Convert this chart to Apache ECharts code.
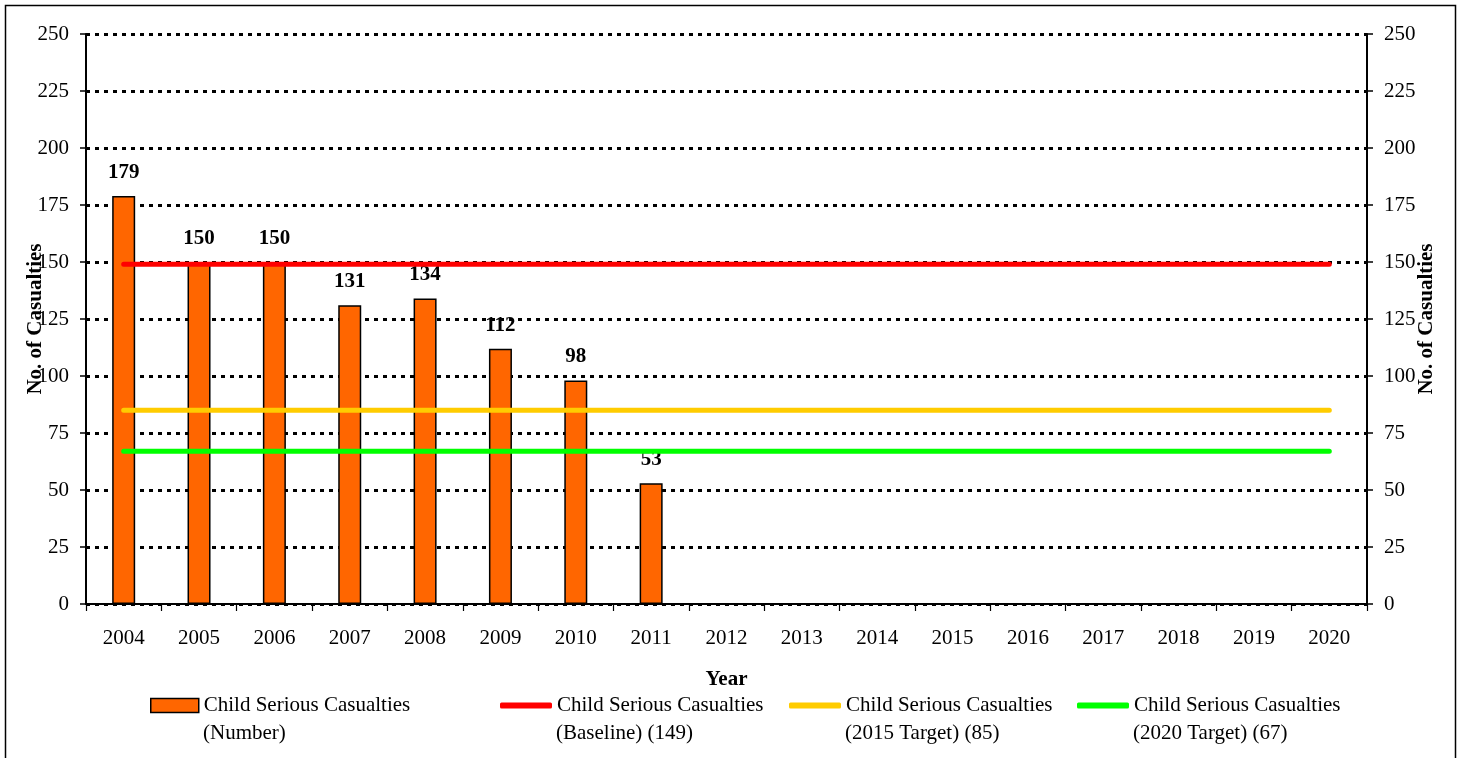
<!DOCTYPE html>
<html>
<head>
<meta charset="utf-8">
<script src="https://cdn.jsdelivr.net/npm/echarts@6/dist/echarts.min.js"></script>
<style>
html,body{margin:0;padding:0;background:#fff;}
#chart{width:1462px;height:758px;}
</style>
</head>
<body>
<div id="chart"></div>
<script>
const years = ['2004','2005','2006','2007','2008','2009','2010','2011','2012','2013','2014','2015','2016','2017','2018','2019','2020'];
const casualties = [179,150,150,131,134,112,98,53,null,null,null,null,null,null,null,null,null];
const baseline = [149,149,149,149,149,149,149,149,149,149,149,149,149,149,149,149,149];
const target2015 = [85,85,85,85,85,85,85,85,85,85,85,85,85,85,85,85,85];
const target2020 = [67,67,67,67,67,67,67,67,67,67,67,67,67,67,67,67,67];
const seriesNames = [
  'Child Serious Casualties\n(Number)',
  'Child Serious Casualties\n(Baseline) (149)',
  'Child Serious Casualties\n(2015 Target) (85)',
  'Child Serious Casualties\n(2020 Target) (67)'
];
const FONT = '"Liberation Serif", "Times New Roman", serif';
const FS = 21;

const chart = echarts.init(document.getElementById('chart'));

const yAxisCommon = {
  type: 'value', min: 0, max: 250, interval: 25,
  name: 'No. of Casualties', nameLocation: 'middle', nameRotate: 90, nameMoveOverlap: false,
  nameTextStyle: {fontFamily: FONT, fontSize: FS, fontWeight: 'bold', color: '#000'},
  axisLine: {show: true, lineStyle: {color: '#000', width: 2}},
  axisTick: {show: true, length: 6, lineStyle: {color: '#000', width: 1.5}},
  axisLabel: {fontFamily: FONT, fontSize: FS, color: '#000', margin: 17}
};

const legendCommon = {
  orient: 'horizontal', itemGap: 0, padding: 0,
  textStyle: {fontFamily: FONT, fontSize: FS, color: '#000', padding: [0,0,0,0]},
  formatter: n => n.split('\n')[0]
};

const option = {
  backgroundColor: '#fff',
  animation: false,
  textStyle: {fontFamily: FONT},
  grid: {left: 86, right: 95, top: 34, bottom: 154, containLabel: false, outerBoundsMode: 'none'},
  xAxis: {
    type: 'category', data: years, boundaryGap: true,
    name: 'Year', nameLocation: 'middle', nameGap: 65, nameMoveOverlap: false,
    nameTextStyle: {fontFamily: FONT, fontSize: FS, fontWeight: 'bold', color: '#000'},
    axisLine: {lineStyle: {color: '#000', width: 2}},
    axisTick: {show: true, length: 7, alignWithLabel: false, lineStyle: {color: '#000', width: 1.2}},
    axisLabel: {fontFamily: FONT, fontSize: FS, color: '#000', margin: 24, interval: 0},
    splitLine: {show: false}
  },
  yAxis: [
    Object.assign({}, yAxisCommon, {
      position: 'left', nameGap: 40,
      splitLine: {show: true, lineStyle: {color: '#000', width: 3, type: [4, 5]}}
    }),
    Object.assign({}, yAxisCommon, {
      position: 'right', nameGap: 49,
      splitLine: {show: false}
    })
  ],
  legend: [
    Object.assign({}, legendCommon, {left: 150, top: 695, itemWidth: 48, itemHeight: 14, itemStyle: {borderColor: '#000', borderWidth: 1.5}, data: [{name: seriesNames[0], icon: 'rect'}]}),
    Object.assign({}, legendCommon, {left: 500, top: 695, itemWidth: 52, itemHeight: 6, data: [{name: seriesNames[1], icon: 'roundRect'}]}),
    Object.assign({}, legendCommon, {left: 789, top: 695, itemWidth: 52, itemHeight: 6, data: [{name: seriesNames[2], icon: 'roundRect'}]}),
    Object.assign({}, legendCommon, {left: 1077, top: 695, itemWidth: 52, itemHeight: 6, data: [{name: seriesNames[3], icon: 'roundRect'}]})
  ],
  graphic: [
    {type: 'rect', shape: {x: 5.5, y: 5.5, width: 1450, height: 800}, style: {fill: 'none', stroke: '#000', lineWidth: 1.5}, z: -1, silent: true},
    {type: 'text', left: 203, top: 723, style: {text: '(Number)', font: FS + 'px ' + FONT, fill: '#000'}},
    {type: 'text', left: 556, top: 723, style: {text: '(Baseline) (149)', font: FS + 'px ' + FONT, fill: '#000'}},
    {type: 'text', left: 845, top: 723, style: {text: '(2015 Target) (85)', font: FS + 'px ' + FONT, fill: '#000'}},
    {type: 'text', left: 1133, top: 723, style: {text: '(2020 Target) (67)', font: FS + 'px ' + FONT, fill: '#000'}}
  ],
  series: [
    {
      name: seriesNames[0], type: 'bar', data: casualties, barWidth: 23, yAxisIndex: 0, z: 2,
      itemStyle: {color: '#FF6600', borderColor: '#000', borderWidth: 1.5},
      label: {show: true, position: 'top', distance: 13, fontFamily: FONT, fontSize: FS, fontWeight: 'bold', color: '#000'}
    },
    {name: seriesNames[1], type: 'line', data: baseline, showSymbol: false, symbol: 'none', z: 3,
     lineStyle: {color: '#FF0000', width: 5, cap: 'round'}, itemStyle: {color: '#FF0000'}},
    {name: seriesNames[2], type: 'line', data: target2015, showSymbol: false, symbol: 'none', z: 3,
     lineStyle: {color: '#FFCC00', width: 5, cap: 'round'}, itemStyle: {color: '#FFCC00'}},
    {name: seriesNames[3], type: 'line', data: target2020, showSymbol: false, symbol: 'none', z: 3,
     lineStyle: {color: '#00FF00', width: 5, cap: 'round'}, itemStyle: {color: '#00FF00'}}
  ]
};
chart.setOption(option);
</script>
</body>
</html>
